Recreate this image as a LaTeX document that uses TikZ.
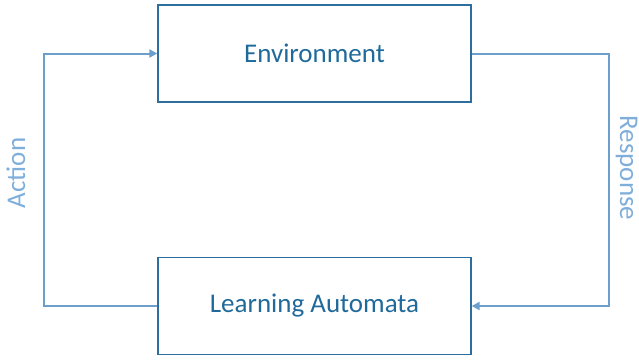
\documentclass[tikz,border=0pt]{standalone}
\usepackage{fontspec}
\setmainfont{Carlito}
\usetikzlibrary{arrows.meta}
\definecolor{boxline}{HTML}{2E6E9E}
\definecolor{boxtext}{HTML}{1F6A9A}
\definecolor{conn}{HTML}{6C9FCB}
\definecolor{lbl}{HTML}{7FAEDA}
\begin{document}
\begin{tikzpicture}[x=1pt,y=-1pt,
  blk/.style={draw=boxline,line width=1.3pt,minimum width=313pt,minimum height=97pt,inner sep=0pt,text=boxtext,font=\fontsize{27}{32}\selectfont},
  conline/.style={draw=conn,line width=2pt,-{Triangle[length=8pt,width=8pt]}},
  lab/.style={text=lbl,font=\fontsize{27}{32}\selectfont,inner sep=0pt}]
\useasboundingbox (0,0) rectangle (639,360);
\node[blk] (env) at (314.5,53.5) {Environment};
\node[blk] (la) at (314.5,306) {Learning Automata};
\coordinate (tl) at (44,53.5);
\coordinate (bl) at (44,306);
\coordinate (tr) at (608.5,53.5);
\coordinate (br) at (608.5,306);
\draw[conline] (la.west) -- (bl) -- (tl) -- (env.west);
\draw[conline] (env.east) -- (tr) -- (br) -- (la.east);
\node[lab,rotate=90] (act) at (16,173) {Action};
\node[lab,rotate=-90] (resp) at (626.5,168) {Response};
\end{tikzpicture}
\end{document}
